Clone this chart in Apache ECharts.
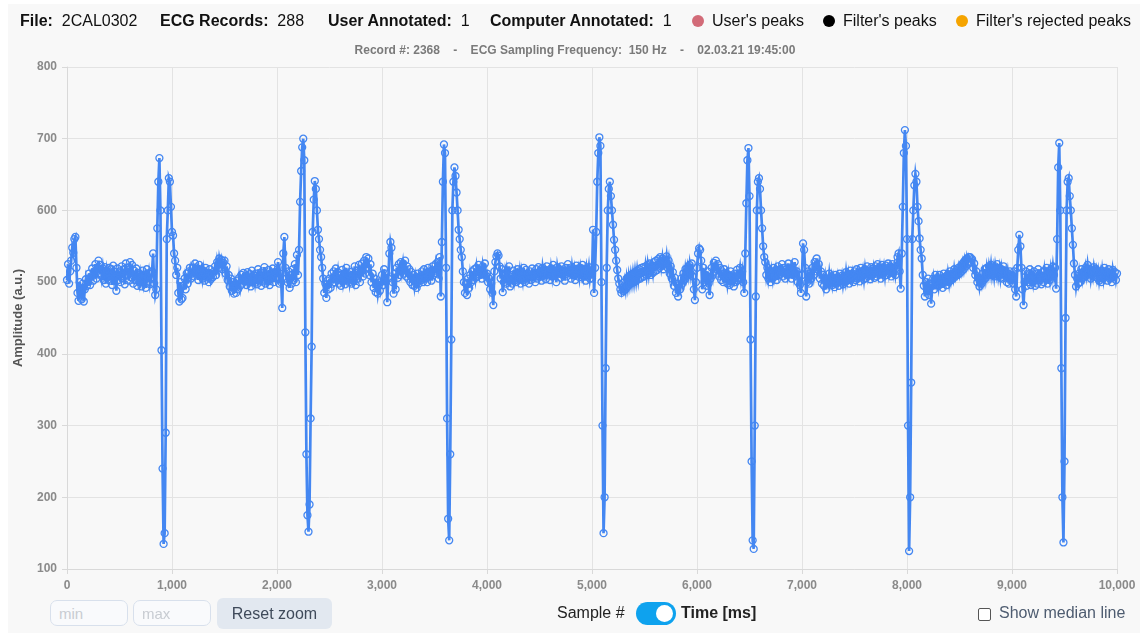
<!DOCTYPE html>
<html>
<head>
<meta charset="utf-8">
<script src="https://cdn.jsdelivr.net/npm/echarts@6/dist/echarts.min.js"></script>
<style>
  html, body { margin: 0; padding: 0; background: #ffffff; font-family: "Liberation Sans", Arial, sans-serif; }
  #card { position: absolute; left: 8px; top: 4px; width: 1132px; height: 629px; background: #f8f8f8; }
  #chart { position: absolute; left: 0; top: 0; width: 1140px; height: 634px; }
  .h { position: absolute; top: 12px; font-size: 16px; color: #111; white-space: nowrap; }
  .h b { font-weight: bold; }
  .dot { display: inline-block; width: 12px; height: 12px; border-radius: 50%; vertical-align: -1px; margin-right: 8px; }
  .sub { position: absolute; top: 43px; left: 0; width: 1150px; text-align: center; font-size: 12px; font-weight: bold; color: #7a7a7a; white-space: pre; }
  .inp { position: absolute; top: 600px; height: 26px; width: 78px; border: 1px solid #d8e0ec; border-radius: 7px; background: #f9fafc; color: #c8ccd2; font-size: 15px; line-height: 25px; padding-left: 8px; box-sizing: border-box; }
  .btn { position: absolute; left: 217px; top: 598px; width: 115px; height: 31px; border-radius: 6px; background: #e2e8f0; color: #3f4a5a; font-size: 16px; line-height: 31px; text-align: center; }
  .lbl { position: absolute; top: 604px; font-size: 16px; color: #222; white-space: nowrap; }
  .tog { position: absolute; left: 636px; top: 602px; width: 40px; height: 23px; border-radius: 12px; background: #0ea2ee; }
  .knob { position: absolute; right: 3px; top: 3px; width: 17px; height: 17px; border-radius: 50%; background: #fff; }
  .chk { position: absolute; left: 978px; top: 608px; width: 11px; height: 11px; border: 1px solid #555; border-radius: 2px; background: #fff; }
</style>
</head>
<body>
<div id="card"></div>
<div id="chart"></div>
<div class="h" style="left:20px"><b>File:</b>&nbsp; 2CAL0302</div>
<div class="h" style="left:160px"><b>ECG Records:</b>&nbsp; 288</div>
<div class="h" style="left:328px"><b>User Annotated:</b>&nbsp; 1</div>
<div class="h" style="left:490px"><b>Computer Annotated:</b>&nbsp; 1</div>
<div class="h" style="left:692px"><span class="dot" style="background:#d26b78"></span>User's peaks</div>
<div class="h" style="left:823px"><span class="dot" style="background:#000"></span>Filter's peaks</div>
<div class="h" style="left:956px"><span class="dot" style="background:#f5a400"></span>Filter's rejected peaks</div>
<div class="sub">Record #: 2368    -    ECG Sampling Frequency:  150 Hz    -    02.03.21 19:45:00</div>
<div class="inp" style="left:50px">min</div>
<div class="inp" style="left:133px">max</div>
<div class="btn">Reset zoom</div>
<div class="lbl" style="left:557px">Sample #</div>
<div class="tog"><div class="knob"></div></div>
<div class="lbl" style="left:681px;font-weight:bold">Time [ms]</div>
<div class="chk"></div>
<div class="lbl" style="left:999px;color:#4e5c70">Show median line</div>
<script>
// ---- data ----
const sampleStepMs = 10;
const amplitude = [
  503,525,498,515,530,548,541,560,563,520,
  485,474,500,488,476,498,473,490,504,495,
  500,512,496,508,519,502,515,525,505,518,
  530,512,524,508,519,503,521,498,516,507,
  520,502,518,496,523,505,514,488,519,503,
  515,500,522,506,518,497,526,509,520,502,
  528,507,524,498,516,503,519,495,513,500,
  510,494,516,499,508,492,518,501,512,497,
  505,515,540,498,482,490,575,640,673,600,
  405,240,135,150,290,560,600,645,640,605,
  570,565,540,530,510,520,485,473,500,476,
  478,495,505,490,512,498,515,520,505,512,
  520,508,526,512,518,503,524,509,517,505,
  516,502,520,508,513,500,518,504,511,507,
  515,522,510,528,519,533,525,531,518,527,
  530,512,522,503,510,494,505,488,500,484,
  497,485,502,490,506,495,510,498,513,501,
  508,496,514,500,511,494,516,502,509,499,
  512,497,518,503,510,495,515,501,521,498,
  510,502,517,496,512,505,519,500,514,507,
  505,528,498,512,500,464,540,563,520,505,
  500,515,492,510,498,518,503,525,500,538,
  510,545,612,655,688,700,670,430,260,175,
  152,190,310,410,570,615,641,630,600,573,
  560,545,535,520,505,485,498,478,502,490,
  505,492,512,498,515,500,519,503,514,498,
  510,495,517,501,512,497,520,504,511,500,
  514,498,510,502,522,496,516,505,524,500,
  515,526,508,530,512,535,520,533,510,525,
  500,512,492,505,486,498,484,495,488,500,
  510,496,518,503,512,472,505,540,556,548,
  500,484,512,490,520,506,525,510,528,515,
  526,512,530,508,522,505,518,500,514,496,
  510,495,506,492,512,498,508,503,515,500,
  518,505,512,500,520,508,515,502,522,510,
  515,525,512,528,505,535,480,556,640,692,
  680,520,310,170,140,260,420,600,640,660,
  648,625,600,573,560,545,535,515,500,485,
  498,482,505,492,510,500,515,503,518,506,
  520,508,524,510,517,505,522,512,526,509,
  512,500,505,490,498,485,468,515,528,536,
  540,537,522,505,518,486,500,512,498,515,
  505,522,494,510,498,516,502,512,500,518,
  505,515,498,513,503,520,500,517,506,512,
  498,515,503,519,507,512,500,518,505,521,
  508,515,502,520,510,517,504,522,511,516,
  503,519,508,524,510,515,500,521,512,518,
  506,522,510,516,502,520,508,525,513,517,
  505,521,510,518,503,523,512,519,507,520,
  511,524,508,516,502,519,510,521,505,515,
  505,573,485,520,570,640,680,702,690,500,
  300,150,200,380,520,600,630,640,620,600,
  580,559,545,530,517,505,498,490,485,492,
  488,500,490,505,494,508,497,510,499,512,
  500,514,502,516,504,518,505,520,507,521,
  508,522,510,524,512,526,510,523,513,528,
  515,530,517,532,520,535,522,533,518,530,
  525,536,520,530,512,522,505,514,495,506,
  485,498,480,496,490,505,498,512,503,518,
  508,520,510,524,512,526,508,490,475,500,
  520,540,547,545,530,490,520,500,510,495,
  515,498,482,505,520,510,527,515,530,512,
  525,508,520,503,515,500,518,505,512,498,
  510,496,515,502,508,494,512,500,517,503,
  510,520,505,515,500,485,540,610,670,687,
  620,420,250,140,128,300,480,600,640,645,
  630,600,575,550,535,528,510,520,505,515,
  500,515,505,520,508,517,503,522,510,518,
  512,525,508,520,505,518,510,526,512,519,
  505,520,510,528,512,515,500,510,496,485,
  510,554,545,520,480,500,515,498,512,505,
  520,510,528,515,533,518,525,505,515,498,
  510,495,506,490,504,498,512,500,508,496,
  505,493,510,498,507,495,512,501,509,497,
  508,500,514,502,511,498,516,504,512,500,
  515,503,518,505,513,501,520,507,516,504,
  518,506,522,508,515,504,521,510,519,506,
  522,508,525,511,520,505,524,512,521,509,
  523,510,526,512,520,508,525,513,522,510,
  520,535,540,515,491,540,605,680,712,690,
  560,300,125,200,360,560,600,635,651,640,
  605,585,561,545,533,510,495,480,500,490,
  505,482,498,470,495,505,490,510,498,506,
  495,510,498,505,492,512,500,508,496,511,
  500,515,503,512,505,518,508,515,510,520,
  512,522,515,526,518,530,522,533,525,535,
  535,528,532,520,526,510,515,500,505,494,
  505,498,512,503,518,506,520,510,522,512,
  524,510,520,508,522,512,525,509,519,506,
  518,505,522,510,516,500,512,498,515,503,
  510,498,515,490,480,520,545,566,550,520,
  490,468,500,515,495,512,500,518,496,510,
  500,515,495,512,498,518,503,510,497,514,
  500,516,505,520,498,512,503,518,508,522,
  510,520,491,560,660,694,600,380,200,137,
  250,450,600,640,645,620,600,575,552,526,
  510,494,505,498,512,500,518,505,515,508,
  520,510,524,512,518,505,516,508,521,512,
  518,506,515,502,512,500,516,505,520,508,
  515,502,518,505,512,500,517,508,514,503,
  512
];
const xTicks = { min: 0, max: 10000, interval: 1000 };
const yTicks = { min: 100, max: 800, interval: 100 };
const yAxisName = "Amplitude (a.u.)";

const seriesData = amplitude.map((v, i) => [i * sampleStepMs, v]);

const lineBlue = '#4487f2';
const chart = echarts.init(document.getElementById('chart'), null, { renderer: 'canvas' });
chart.setOption({
  animation: false,
  backgroundColor: 'transparent',
  grid: { left: 67, right: 23, top: 67, bottom: 65, containLabel: false },
  xAxis: {
    type: 'value',
    min: xTicks.min, max: xTicks.max, interval: xTicks.interval,
    axisLine: { show: true, lineStyle: { color: '#d9d9d9' } },
    axisTick: { show: true, length: 5, lineStyle: { color: '#d9d9d9' } },
    axisLabel: { color: '#8a8a8a', fontSize: 12, fontWeight: 'bold', margin: 11,
      fontFamily: 'Liberation Sans, Arial, sans-serif',
      formatter: v => v.toLocaleString('en-US') },
    splitLine: { show: true, lineStyle: { color: '#e3e3e3' } }
  },
  yAxis: {
    type: 'value',
    min: yTicks.min, max: yTicks.max, interval: yTicks.interval,
    name: yAxisName, nameLocation: 'middle', nameGap: 42,
    nameTextStyle: { color: '#555', fontSize: 13, fontWeight: 'bold', fontFamily: 'Liberation Sans, Arial, sans-serif' },
    axisLine: { show: true, lineStyle: { color: '#d9d9d9' } },
    axisTick: { show: true, length: 5, lineStyle: { color: '#d9d9d9' } },
    axisLabel: { color: '#8a8a8a', fontSize: 12, fontWeight: 'bold', margin: 10,
      fontFamily: 'Liberation Sans, Arial, sans-serif' },
    splitLine: { show: true, lineStyle: { color: '#e3e3e3' } }
  },
  series: [{
    type: 'line',
    data: seriesData,
    symbol: 'circle',
    symbolSize: 7,
    showSymbol: true,
    showAllSymbol: true,
    color: lineBlue,
    itemStyle: { color: 'rgba(0,0,0,0)', borderColor: lineBlue, borderWidth: 1.3 },
    lineStyle: { color: lineBlue, width: 2.7, join: 'miter', miterLimit: 9 },
    emphasis: { disabled: true }
  }]
});
</script>
</body>
</html>
